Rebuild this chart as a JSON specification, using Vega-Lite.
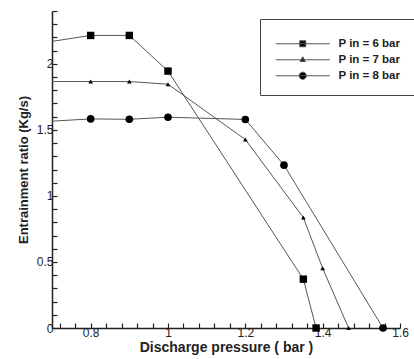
{
  "$schema": "https://vega.github.io/schema/vega-lite/v6.json",
  "width": 348,
  "height": 317,
  "padding": {"left": 17, "top": 10, "right": 0, "bottom": 5},
  "config": {
    "view": {"stroke": null},
    "font": "Liberation Sans",
    "axis": {"labelFont": "Liberation Sans", "titleFont": "Liberation Sans", "domainColor": "#222", "tickColor": "#222", "labelColor": "#222", "titleColor": "#222", "grid": false, "ticks": true}
  },
  "data": {
    "values": [
      {"x": 0.7, "y": 2.17, "series": "P in = 6 bar"},
      {"x": 0.8, "y": 2.215, "series": "P in = 6 bar"},
      {"x": 0.9, "y": 2.215, "series": "P in = 6 bar"},
      {"x": 1.0, "y": 1.945, "series": "P in = 6 bar"},
      {"x": 1.35, "y": 0.37, "series": "P in = 6 bar"},
      {"x": 1.383, "y": 0.0, "series": "P in = 6 bar"},
      {"x": 0.7, "y": 1.866, "series": "P in = 7 bar"},
      {"x": 0.8, "y": 1.866, "series": "P in = 7 bar"},
      {"x": 0.9, "y": 1.866, "series": "P in = 7 bar"},
      {"x": 1.0, "y": 1.846, "series": "P in = 7 bar"},
      {"x": 1.2, "y": 1.427, "series": "P in = 7 bar"},
      {"x": 1.35, "y": 0.836, "series": "P in = 7 bar"},
      {"x": 1.4, "y": 0.452, "series": "P in = 7 bar"},
      {"x": 1.467, "y": 0.0, "series": "P in = 7 bar"},
      {"x": 0.7, "y": 1.566, "series": "P in = 8 bar"},
      {"x": 0.8, "y": 1.583, "series": "P in = 8 bar"},
      {"x": 0.9, "y": 1.58, "series": "P in = 8 bar"},
      {"x": 1.0, "y": 1.596, "series": "P in = 8 bar"},
      {"x": 1.2, "y": 1.579, "series": "P in = 8 bar"},
      {"x": 1.3, "y": 1.233, "series": "P in = 8 bar"},
      {"x": 1.556, "y": 0.0, "series": "P in = 8 bar"}
    ]
  },
  "encoding": {
    "x": {
      "field": "x", "type": "quantitative",
      "scale": {"domain": [0.7, 1.6], "nice": false, "zero": false},
      "axis": {
        "title": "Discharge pressure ( bar )",
        "titleFontSize": 14, "titleFontWeight": "bold", "titlePadding": 2,
        "values": [0.72,0.76,0.8,0.84,0.88,0.92,0.96,1.0,1.04,1.08,1.12,1.16,1.2,1.24,1.28,1.32,1.36,1.4,1.44,1.48,1.52,1.56,1.6],
        "labelExpr": "round(datum.value*100) % 20 == 0 ? format(datum.value, '~g') : ''",
        "labelFontSize": 12, "labelPadding": 4, "labelFlush": false,
        "tickSize": -5,
        "domainWidth": 1.5, "tickWidth": 1.2
      }
    },
    "y": {
      "field": "y", "type": "quantitative",
      "scale": {"domain": [0, 2.4], "nice": false},
      "axis": {
        "title": "Entrainment ratio (Kg/s)",
        "titleFontSize": 13, "titleFontWeight": "bold", "titlePadding": 6,
        "values": [0,0.1,0.2,0.3,0.4,0.5,0.6,0.7,0.8,0.9,1.0,1.1,1.2,1.3,1.4,1.5,1.6,1.7,1.8,1.9,2.0,2.1,2.2,2.3,2.4],
        "labelExpr": "round(datum.value*10) % 5 == 0 ? format(datum.value, '~g') : ''",
        "labelFontSize": 12, "labelPadding": 4, "labelFlush": false,
        "tickSize": -5,
        "domainWidth": 1.5, "tickWidth": 1.2
      }
    }
  },
  "layer": [
    {
      "mark": {"type": "line", "strokeWidth": 1},
      "encoding": {
        "color": {
          "field": "series", "type": "nominal",
          "scale": {"domain": ["P in = 6 bar", "P in = 7 bar", "P in = 8 bar"], "range": ["#555", "#555", "#555"]},
          "legend": {
            "title": " ", "titleFontSize": 4, "titlePadding": 2,
            "orient": "none", "legendX": 208, "legendY": 8,
            "strokeColor": "#444", "fillColor": "white", "padding": 13,
            "symbolSize": 36, "symbolStrokeWidth": 1, "symbolOffset": 24,
            "labelFont": "Liberation Sans", "labelFontWeight": "bold", "labelFontSize": 11.5, "labelColor": "#222",
            "labelOffset": 30, "rowPadding": 3,
            "encode": {"symbols": {"update": {
              "shape": {"signal": "datum.value === 'P in = 6 bar' ? 'M-9,0L9,0M-1,-1L1,-1L1,1L-1,1Z' : (datum.value === 'P in = 7 bar' ? 'M-9,0L9,0M0,-1L0.9,0.6L-0.9,0.6Z' : 'M-9,0L9,0M1.2,0A1.2,1.2,0,1,1,-1.2,0A1.2,1.2,0,1,1,1.2,0Z')"},
              "fill": {"value": "black"}, "stroke": {"value": "#555"}, "strokeWidth": {"value": 1}, "opacity": {"value": 1}
            }}}
          }
        }
      }
    },
    {
      "transform": [{"filter": "datum.series == 'P in = 6 bar' && datum.x > 0.71"}],
      "mark": {"type": "point", "shape": "square", "filled": true, "color": "black", "opacity": 1, "size": 55}
    },
    {
      "transform": [{"filter": "datum.series == 'P in = 7 bar' && datum.x > 0.71"}],
      "mark": {"type": "point", "shape": "triangle-up", "filled": true, "color": "black", "opacity": 1, "size": 22}
    },
    {
      "transform": [{"filter": "datum.series == 'P in = 8 bar' && datum.x > 0.71"}],
      "mark": {"type": "point", "shape": "circle", "filled": true, "color": "black", "opacity": 1, "size": 58}
    }
  ]
}
